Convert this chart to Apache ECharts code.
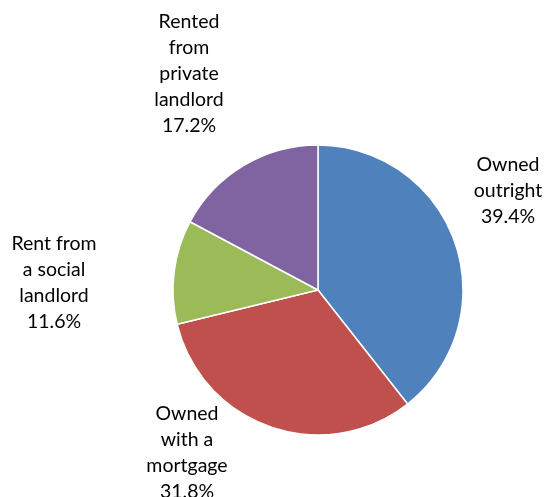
<!DOCTYPE html>
<html><head><meta charset="utf-8">
<script src="https://cdn.jsdelivr.net/npm/echarts@6/dist/echarts.min.js"></script>
<style>html,body{margin:0;padding:0;background:#fff;}#c{width:547px;height:497px;}</style>
</head><body><div id="c"></div>
<script>
const categories = ["Owned outright", "Owned with a mortgage", "Rent from a social landlord", "Rented from private landlord"];
const labelTexts = ["Owned\noutright", "Owned\nwith a\nmortgage", "Rent from\na social\nlandlord", "Rented\nfrom\nprivate\nlandlord"];
const values = [39.4, 31.8, 11.6, 17.2];

const colors = ["#4F81BD", "#C0504D", "#9BBB59", "#8064A2"];
const labelPos = [[508, 191], [187, 453], [54, 283], [189, 74]];

const chart = echarts.init(document.getElementById('c'));
chart.setOption({
  animation: false,
  series: [{
    type: 'pie',
    center: [318, 290],
    radius: [0, 145],
    startAngle: 90,
    clockwise: true,
    data: categories.map((c, i) => ({ name: c, value: values[i], itemStyle: { color: colors[i] } })),
    itemStyle: { borderColor: '#fff', borderWidth: 1.5 },
    label: {
      show: true,
      position: 'outside',
      formatter: p => labelTexts[p.dataIndex] + '\n' + values[p.dataIndex].toFixed(1) + '%',
      fontFamily: 'Lato',
      fontSize: 19.5,
      lineHeight: 26,
      color: '#000',
      align: 'center',
      overflow: 'none',
      width: 200
    },
    edgeDistance: 0,
    labelLine: { show: false },
    labelLayout: function (params) {
      const p = labelPos[params.dataIndex];
      return { x: p[0], y: p[1], align: 'center', verticalAlign: 'middle' };
    }
  }]
});
</script></body></html>
